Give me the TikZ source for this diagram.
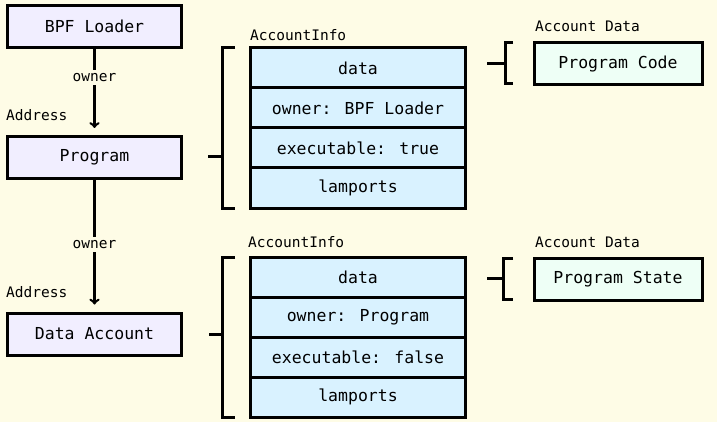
\documentclass[tikz,border=0pt]{standalone}
\usepackage{fontspec}
\setmainfont{DejaVu Sans Mono}
\definecolor{bg}{HTML}{FEFCE6}
\definecolor{lav}{HTML}{F1EEFF}
\definecolor{info}{HTML}{D9F2FF}
\definecolor{mint}{HTML}{EEFFF6}
\tikzset{
  acct/.style={draw, line width=3pt, fill=lav, minimum width=174pt, minimum height=42pt, font=\fontsize{16.5}{18}\selectfont},
  field/.style={draw, line width=3pt, fill=info, minimum width=215pt, minimum height=40pt, font=\fontsize{16.5}{18}\selectfont},
  blob/.style={draw, line width=3pt, fill=mint, minimum width=168pt, minimum height=42pt, font=\fontsize{16.5}{18}\selectfont},
  tag/.style={font=\fontsize{14.5}{16}\selectfont, inner sep=0pt},
  brk/.style={line width=3pt},
  own/.style={line width=2.5pt, ->, shorten >=7pt}
}
\begin{document}
\begin{tikzpicture}[x=1pt,y=-1pt]
      \path[use as bounding box, fill=bg] (0,0) rectangle (717,422);
      \node[acct] at (94.5,26.5) (loader) {BPF Loader};
      \node[acct] at (94.5,157.5) (prog) {Program};
      \node[acct] at (94.5,334) (dacc) {Data Account};
      \node[tag, anchor=west] at (6,115) (addr1) {Address};
      \node[tag, anchor=west] at (6,292) (addr2) {Address};
      \path[draw,own] (loader) -- node[tag, fill=bg, inner sep=3pt, pos=.33] (own1) {owner} (prog);
      \path[draw,own] (prog) -- node[tag, fill=bg, inner sep=3pt, pos=.49] (own2) {owner} (dacc);
      \node[tag, anchor=west] at (250,35) (info1) {AccountInfo};
      \node[field] at (358,68) (pdata) {data};
      \node[field] at (358,108) (powner) {owner: BPF Loader};
      \node[field] at (358,148) (pexec) {executable: true};
      \node[field] at (358,188) (plamp) {lamports};
      \node[tag, anchor=west] at (248,242) (info2) {AccountInfo};
      \node[field] at (358,277) (ddata) {data};
      \node[field] at (358,317) (downer) {owner: Program};
      \node[field] at (358,357) (dexec) {executable: false};
      \node[field] at (358,397) (dlamp) {lamports};
      \node[tag, anchor=west] at (535,26) (adata1) {Account Data};
      \node[blob] at (618,64) (pcode) {Program Code};
      \node[tag, anchor=west] at (535,242) (adata2) {Account Data};
      \node[blob] at (618,279.5) (pstate) {Program State};
      \path[draw,brk] (235,48) -| (222,208) -- (235,208);
      \path[draw,brk] (208,157) -- (222,157);
      \path[draw,brk] (235,257) -| (222,417) -- (235,417);
      \path[draw,brk] (209,334) -- (222,334);
      \path[draw,brk] (513,43) -| (505,84) -- (513,84);
      \path[draw,brk] (487,64) -- (505,64);
      \path[draw,brk] (513,258) -| (503,299) -- (513,299);
      \path[draw,brk] (487,278) -- (503,278);
\end{tikzpicture}
\end{document}
